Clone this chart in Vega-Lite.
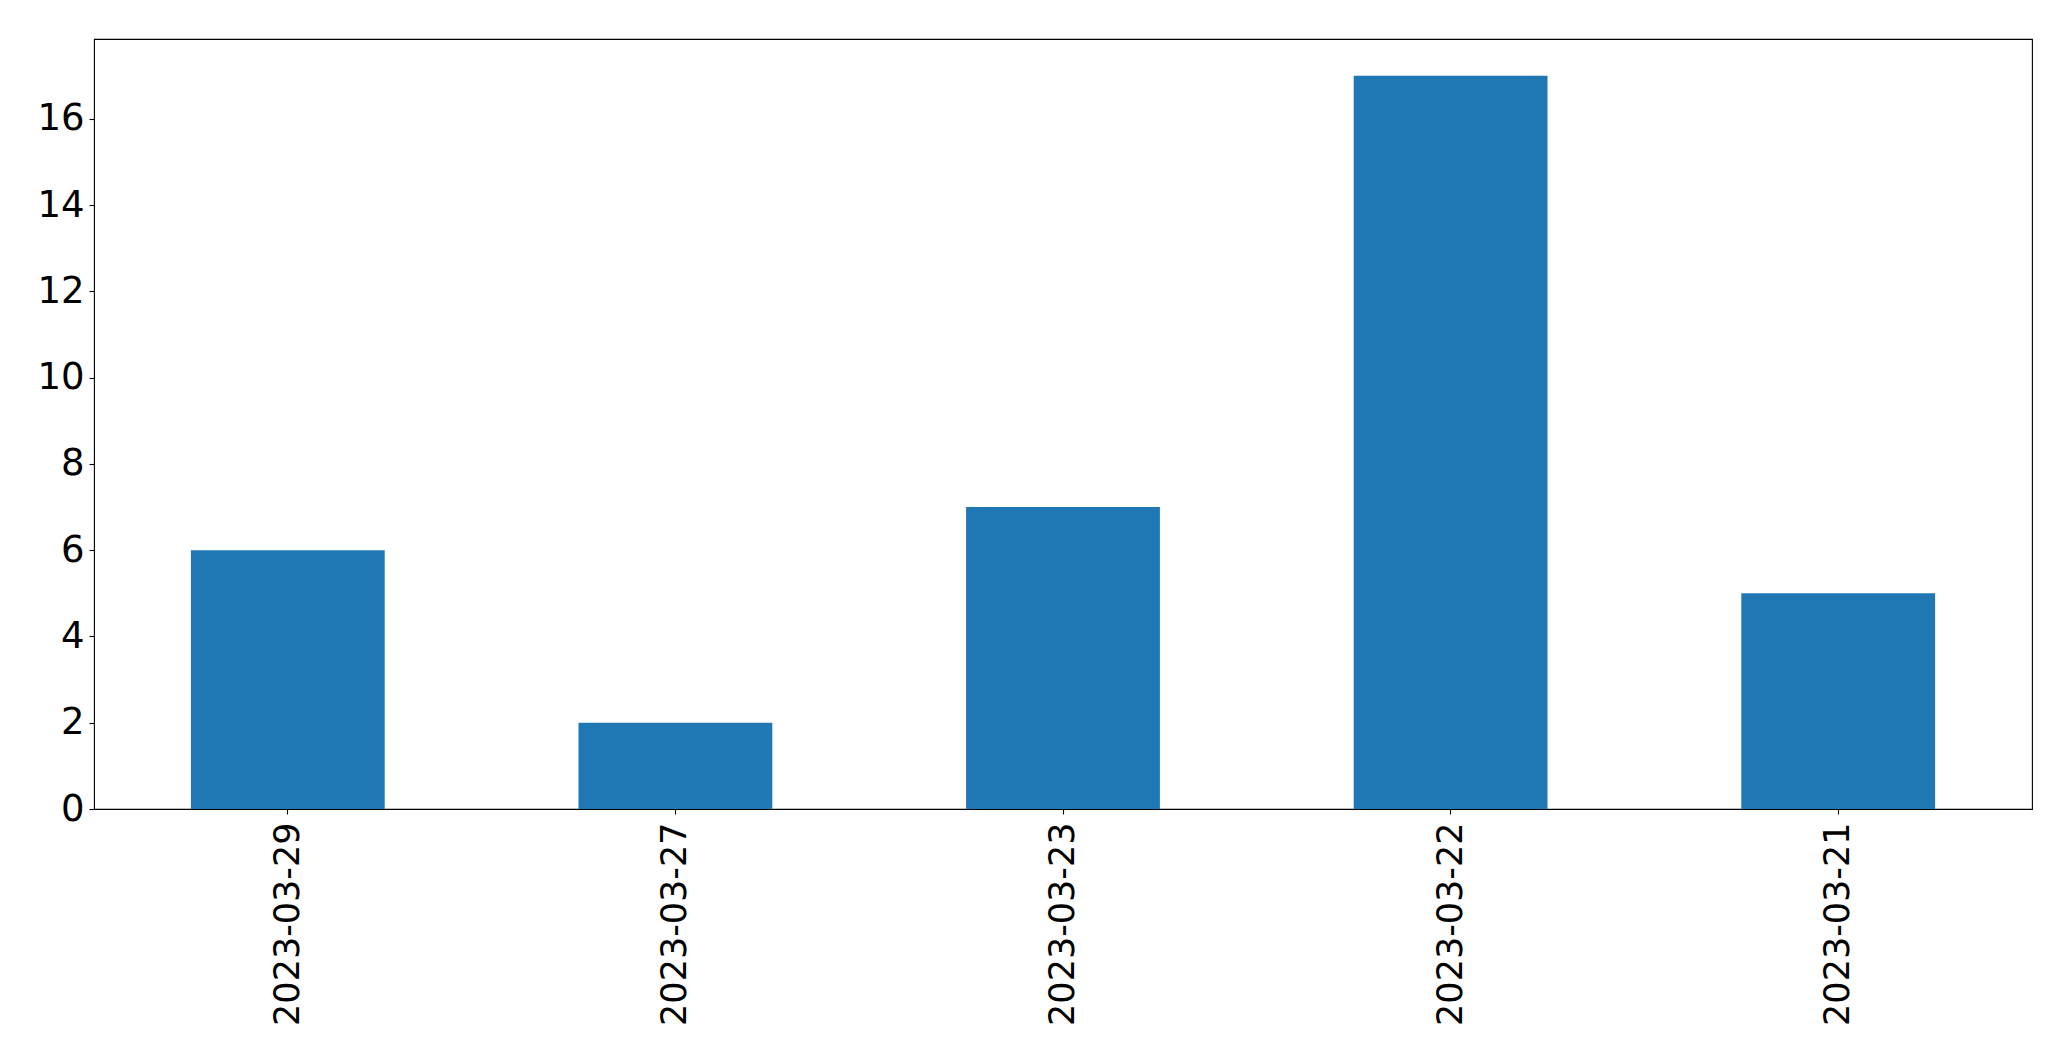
{
  "$schema": "https://vega.github.io/schema/vega-lite/v6.json",
  "autosize": {"type": "none"},
  "padding": {"left": 94, "top": 39, "right": 39, "bottom": 252},
  "width": 1938,
  "height": 770,
  "background": "white",
  "config": {
    "view": {"stroke": "black", "strokeWidth": 1.1},
    "axis": {
      "grid": false,
      "domain": false,
      "tickColor": "black",
      "tickSize": 5,
      "tickWidth": 1.1,
      "labelColor": "black",
      "labelFont": "DejaVu Sans",
      "labelFontSize": 37,
      "labelLimit": 0,
      "title": null
    }
  },
  "data": {
    "values": [
      {"date": "2023-03-29", "count": 6},
      {"date": "2023-03-27", "count": 2},
      {"date": "2023-03-23", "count": 7},
      {"date": "2023-03-22", "count": 17},
      {"date": "2023-03-21", "count": 5}
    ]
  },
  "mark": {"type": "bar", "color": "#1f77b4"},
  "encoding": {
    "x": {
      "field": "date",
      "type": "nominal",
      "sort": null,
      "scale": {"paddingInner": 0.5, "paddingOuter": 0.25},
      "axis": {"labelAngle": -90, "labelPadding": 8, "labelFontSize": 35}
    },
    "y": {
      "field": "count",
      "type": "quantitative",
      "scale": {"domain": [0, 17.85], "nice": false},
      "axis": {"values": [0, 2, 4, 6, 8, 10, 12, 14, 16], "labelPadding": 5}
    }
  }
}
